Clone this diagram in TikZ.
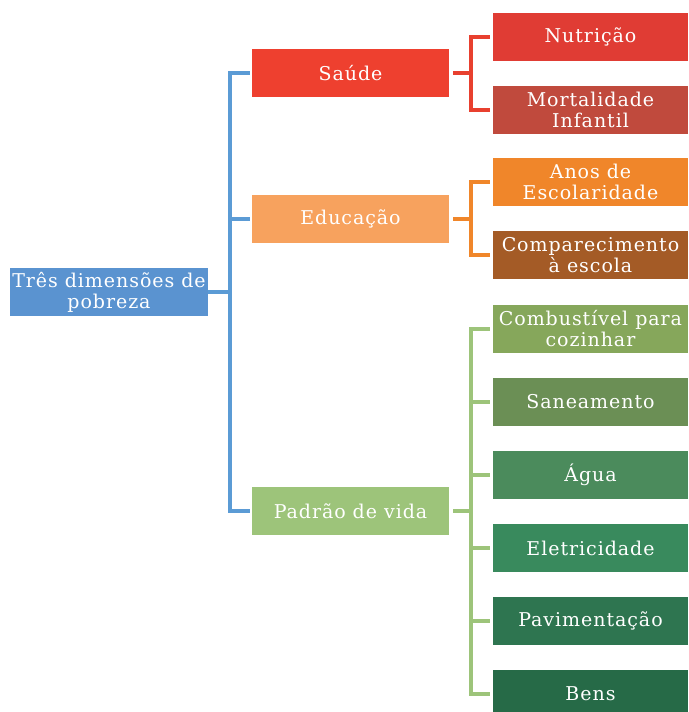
\documentclass[tikz,border=0pt]{standalone}
\usepackage{fontspec}
\setmainfont{DejaVu Serif}[LetterSpace=5]
\begin{document}
\begin{tikzpicture}[x=1pt,y=-1pt,
  box/.style={draw=none,minimum height=48pt,inner sep=0pt,align=center,
    text=white,font=\fontsize{19}{21}\selectfont},
  rootbox/.style={box,minimum width=198pt},
  midbox/.style={box,minimum width=197pt},
  leafbox/.style={box,minimum width=195pt},
  link/.style={line width=3.4pt,line cap=butt,line join=miter}]
\definecolor{cblue}{HTML}{5B9BD5}
\definecolor{croot}{HTML}{5A93D0}
\definecolor{csaude}{HTML}{EE402F}
\definecolor{cnutri}{HTML}{E03C34}
\definecolor{cmort}{HTML}{C04A3D}
\definecolor{cred}{HTML}{E8402F}
\definecolor{cedu}{HTML}{F7A25E}
\definecolor{canos}{HTML}{F0862A}
\definecolor{ccomp}{HTML}{A45B26}
\definecolor{corange}{HTML}{F0862A}
\definecolor{cpadrao}{HTML}{9DC47A}
\definecolor{cgreen}{HTML}{9DC47A}
\definecolor{ccomb}{HTML}{86A75B}
\definecolor{csan}{HTML}{6B8F55}
\definecolor{cagua}{HTML}{4B8B5C}
\definecolor{celet}{HTML}{398A5D}
\definecolor{cpav}{HTML}{2E7550}
\definecolor{cbens}{HTML}{266A47}
\useasboundingbox (0,0) rectangle (688,712);

% root
\node[rootbox,fill=croot] (root) at (109,292) {Três dimensões de\\pobreza};

% dimensions
\node[midbox,fill=csaude]  (saude)  at (350.5,73)  {Saúde};
\node[midbox,fill=cedu]    (edu)    at (350.5,219) {Educação};
\node[midbox,fill=cpadrao] (padrao) at (350.5,511) {Padrão de vida};

% indicators
\node[leafbox,fill=cnutri] (nutri) at (590.5,37)  {Nutrição};
\node[leafbox,fill=cmort]  (mort)  at (590.5,110) {Mortalidade\\Infantil};
\node[leafbox,fill=canos]  (anos)  at (590.5,182) {Anos de\\Escolaridade};
\node[leafbox,fill=ccomp]  (comp)  at (590.5,255) {Comparecimento\\à escola};
\node[leafbox,fill=ccomb]  (comb)  at (590.5,329) {Combustível para\\cozinhar};
\node[leafbox,fill=csan]   (san)   at (590.5,402) {Saneamento};
\node[leafbox,fill=cagua]  (agua)  at (590.5,475) {Água};
\node[leafbox,fill=celet]  (elet)  at (590.5,548) {Eletricidade};
\node[leafbox,fill=cpav]   (pav)   at (590.5,621) {Pavimentação};
\node[leafbox,fill=cbens]  (bens)  at (590.5,694) {Bens};

% bracket connectors
\coordinate (rj) at (230,292);
\draw[link,cblue] (root.east) -- (rj);
\foreach \t in {saude,edu,padrao}
  \draw[link,cblue] (rj) |- ([xshift=-2pt]\t.west);

\coordinate (sj) at (471,73);
\draw[link,cred] ([xshift=4pt]saude.east) -- (sj);
\foreach \t in {nutri,mort}
  \draw[link,cred] (sj) |- ([xshift=-3pt]\t.west);

\coordinate (ej) at (471,219);
\draw[link,corange] ([xshift=4pt]edu.east) -- (ej);
\foreach \t in {anos,comp}
  \draw[link,corange] (ej) |- ([xshift=-3pt]\t.west);

\coordinate (pj) at (471,511);
\draw[link,cgreen] ([xshift=4pt]padrao.east) -- (pj);
\foreach \t in {comb,san,agua,elet,pav,bens}
  \draw[link,cgreen] (pj) |- ([xshift=-3pt]\t.west);
\end{tikzpicture}
\end{document}
